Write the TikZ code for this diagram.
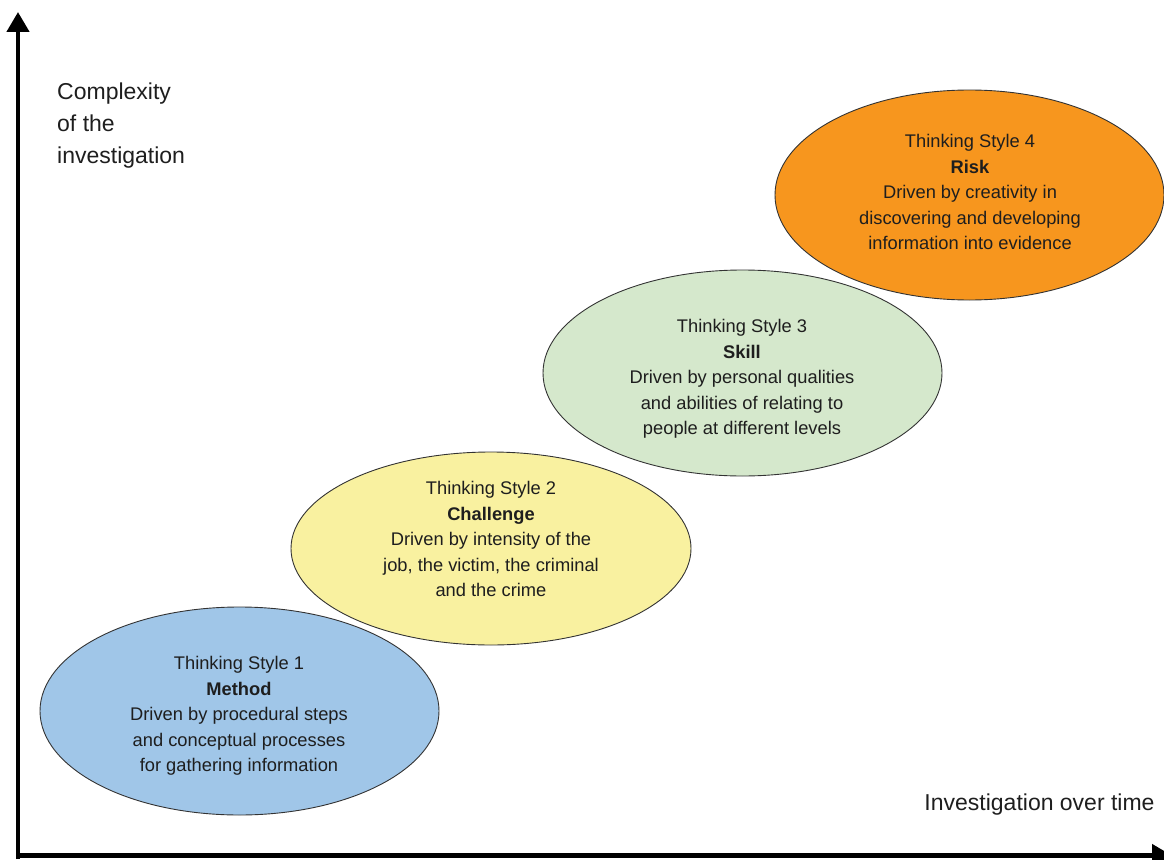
\documentclass[tikz,border=0pt]{standalone}
\usepackage{fontspec}
\setmainfont{Liberation Sans}
\usetikzlibrary{arrows.meta,shapes.geometric}
\definecolor{cblue}{RGB}{160,198,232}
\definecolor{cyellow}{RGB}{249,241,160}
\definecolor{cgreen}{RGB}{213,232,204}
\definecolor{corange}{RGB}{247,150,30}
\definecolor{txt}{RGB}{30,30,30}
\begin{document}
\begin{tikzpicture}[x=1pt,y=-1pt,
  blob/.style={ellipse,draw=black!80,line width=0.9pt,inner sep=0pt},
  blobtext/.style={align=center,text=txt,inner sep=0pt,font=\fontsize{18.3}{25.5}\selectfont},
  axislabel/.style={text=txt,inner sep=0pt,font=\fontsize{23}{32}\selectfont},
  axis/.style={line width=4.5pt,-{Triangle[length=20pt,width=22pt]}}]
\useasboundingbox (0,0) rectangle (1164,859);
\coordinate (o) at (18,859);
\coordinate (ytop) at (18,12);
\coordinate (ho) at (16,855.5);
\coordinate (xend) at (1172,855.5);
\draw[axis] (o) -- (ytop);
\draw[axis] (ho) -- (xend);

\node[blob,fill=cblue,minimum width=399pt,minimum height=208pt] (e1) at (239.5,711) {};
\node[blob,fill=cyellow,minimum width=400pt,minimum height=193pt] (e2) at (491,548.5) {};
\node[blob,fill=cgreen,minimum width=399pt,minimum height=206pt] (e3) at (742.5,373) {};
\node[blob,fill=corange,minimum width=389pt,minimum height=210pt] (e4) at (969.5,195) {};

\node[blobtext] (t1) at (239,716) {Thinking Style 1\\\textbf{Method}\\Driven by procedural steps\\and conceptual processes\\for gathering information};
\node[blobtext] (t2) at (491,539) {Thinking Style 2\\\textbf{Challenge}\\Driven by intensity of the\\job, the victim, the criminal\\and the crime};
\node[blobtext] (t3) at (742,379) {Thinking Style 3\\\textbf{Skill}\\Driven by personal qualities\\and abilities of relating to\\people at different levels};
\node[blobtext] (t4) at (970,192) {Thinking Style 4\\\textbf{Risk}\\Driven by creativity in\\discovering and developing\\information into evidence};

\node[axislabel,align=left,anchor=west] (ylab) at (57,126) {Complexity\\of the\\investigation};
\node[axislabel] (xlab) at (1039.5,805) {Investigation over time};
\end{tikzpicture}
\end{document}
